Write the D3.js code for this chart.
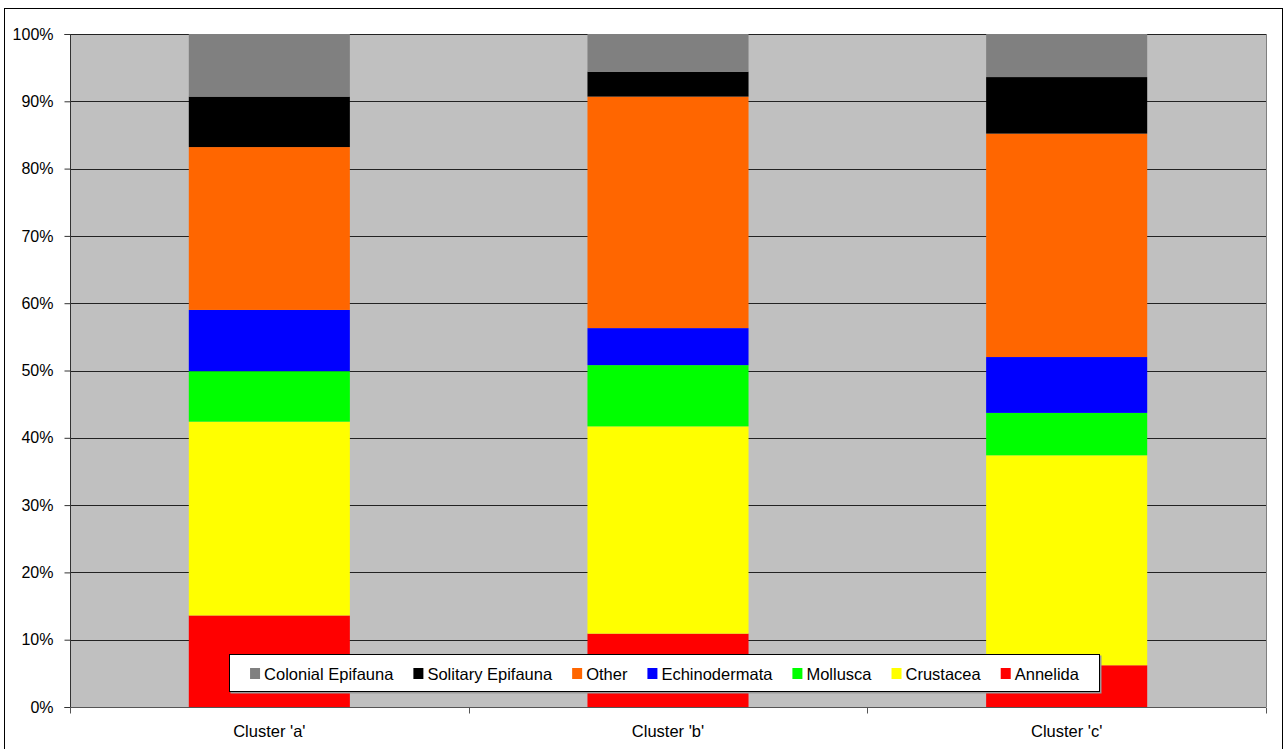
<!DOCTYPE html>
<html><head><meta charset="utf-8">
<script src="https://cdn.jsdelivr.net/npm/d3@7"></script>
<style>
html,body{margin:0;padding:0;background:#fff;}
svg{display:block;font-family:"Liberation Sans",Arial,sans-serif;}
</style></head>
<body>
<svg id="chart" width="1285" height="749"></svg>
<script>
// ---- data (percent of each cluster) ----
const categories = ["Cluster 'a'", "Cluster 'b'", "Cluster 'c'"];
const seriesNames = ["Annelida", "Crustacea", "Mollusca", "Echinodermata", "Other", "Solitary Epifauna", "Colonial Epifauna"];
const annelida      = [13.6, 10.9, 6.2];
const crustacea     = [28.8, 30.8, 31.2];
const mollusca      = [7.5, 9.1, 6.3];
const echinodermata = [9.1, 5.5, 8.3];
const other         = [24.2, 34.4, 33.2];
const solitary      = [7.5, 3.7, 8.4];
const colonial      = [9.3, 5.6, 6.4];
const yTicks = [0, 10, 20, 30, 40, 50, 60, 70, 80, 90, 100];
const legendOrder = ["Colonial Epifauna", "Solitary Epifauna", "Other", "Echinodermata", "Mollusca", "Crustacea", "Annelida"];
const colors = {
  "Annelida": "#FF0000", "Crustacea": "#FFFF00", "Mollusca": "#00FF00",
  "Echinodermata": "#0000FF", "Other": "#FF6600",
  "Solitary Epifauna": "#000000", "Colonial Epifauna": "#808080"
};

const seriesData = [annelida, crustacea, mollusca, echinodermata, other, solitary, colonial];
const rows = categories.map((c, i) => {
  const r = {cat: c};
  seriesNames.forEach((s, j) => r[s] = seriesData[j][i]);
  return r;
});

const svg = d3.select("#chart");
// outer chart border
svg.append("rect").attr("x", 4.5).attr("y", 8.5).attr("width", 1278).attr("height", 760)
  .attr("fill", "#fff").attr("stroke", "#000").attr("stroke-width", 1);

const L = 70, R = 1266, T = 34, B = 707;
const x = d3.scaleBand().domain(categories).range([L, R]).padding(0);
const y = d3.scaleLinear().domain([0, 100]).range([B, T]);

// plot background
svg.append("rect").attr("x", L).attr("y", T).attr("width", R - L).attr("height", B - T).attr("fill", "#C0C0C0");
// right border of plot
svg.append("line").attr("x1", R + 0.5).attr("x2", R + 0.5).attr("y1", T).attr("y2", B)
  .attr("stroke", "#808080");

// gridlines
svg.append("g").selectAll("line").data(yTicks.filter(d => d > 0)).join("line")
  .attr("x1", L).attr("x2", R)
  .attr("y1", d => Math.round(y(d)) + 0.5).attr("y2", d => Math.round(y(d)) + 0.5)
  .attr("stroke", "#222").attr("stroke-width", 1);

// stacked bars
const stack = d3.stack().keys(seriesNames);
const stacked = stack(rows);
const barW = x.bandwidth() * 0.404;
svg.append("g").selectAll("g").data(stacked).join("g")
  .attr("fill", d => colors[d.key])
  .selectAll("rect").data(d => d).join("rect")
  .attr("x", d => x(d.data.cat) + (x.bandwidth() - barW) / 2)
  .attr("width", barW)
  .attr("y", d => y(d[1]))
  .attr("height", d => y(d[0]) - y(d[1]));

// y axis
const yAxis = d3.axisLeft(y).tickValues(yTicks).tickFormat(d => d + "%").tickSize(6).tickPadding(11);
const gy = svg.append("g").attr("transform", `translate(${L + 0.5},0)`).call(yAxis);
gy.select(".domain").attr("stroke", "#333").attr("d", `M-6,${T}.5H0V${B}.5H-6`);
gy.selectAll(".tick line").attr("stroke", "#333");
gy.selectAll(".tick text").attr("font-size", 16).attr("fill", "#000")
  .attr("font-family", "'Liberation Sans',Arial,sans-serif");

// x axis
const xAxis = d3.axisBottom(x).tickSize(0).tickPadding(18);
const gx = svg.append("g").attr("transform", `translate(0,${B + 0.5})`).call(xAxis);
gx.select(".domain").attr("stroke", "#555").attr("d", `M${L},0H${R}`);
gx.selectAll(".tick text").attr("font-size", 16.5).attr("fill", "#000")
  .attr("font-family", "'Liberation Sans',Arial,sans-serif");
// category boundary ticks
const bounds = categories.map(c => x(c)).concat([R]);
gx.append("g").selectAll("line").data(bounds).join("line")
  .attr("x1", d => Math.round(d) + 0.5).attr("x2", d => Math.round(d) + 0.5)
  .attr("y1", 0).attr("y2", 6).attr("stroke", "#555");

// legend
const lg = svg.append("g");
lg.append("rect").attr("x", 230.5).attr("y", 655.5).attr("width", 871).attr("height", 38)
  .attr("fill", "#999");
lg.append("rect").attr("x", 229.5).attr("y", 654.5).attr("width", 870).attr("height", 37)
  .attr("fill", "#fff").attr("stroke", "#000").attr("stroke-width", 1);
const items = lg.selectAll("g.item").data(legendOrder).join("g").attr("class", "item");
items.append("rect").attr("width", 10).attr("height", 11).attr("y", 668)
  .attr("fill", d => colors[d]);
items.append("text").text(d => d).attr("y", 679.5).attr("font-size", 16.5).attr("fill", "#000");
// measure and place
let widths = [];
items.select("text").each(function() { widths.push(this.getComputedTextLength()); });
const gapMarker = 14, gapItem = 20;
const total = widths.reduce((a, w) => a + gapMarker + w, 0) + gapItem * (widths.length - 1);
let cx = 664.5 - total / 2;
items.each(function(d, i) {
  const g = d3.select(this);
  g.select("rect").attr("x", cx);
  g.select("text").attr("x", cx + gapMarker);
  cx += gapMarker + widths[i] + gapItem;
});
</script>
</body></html>
